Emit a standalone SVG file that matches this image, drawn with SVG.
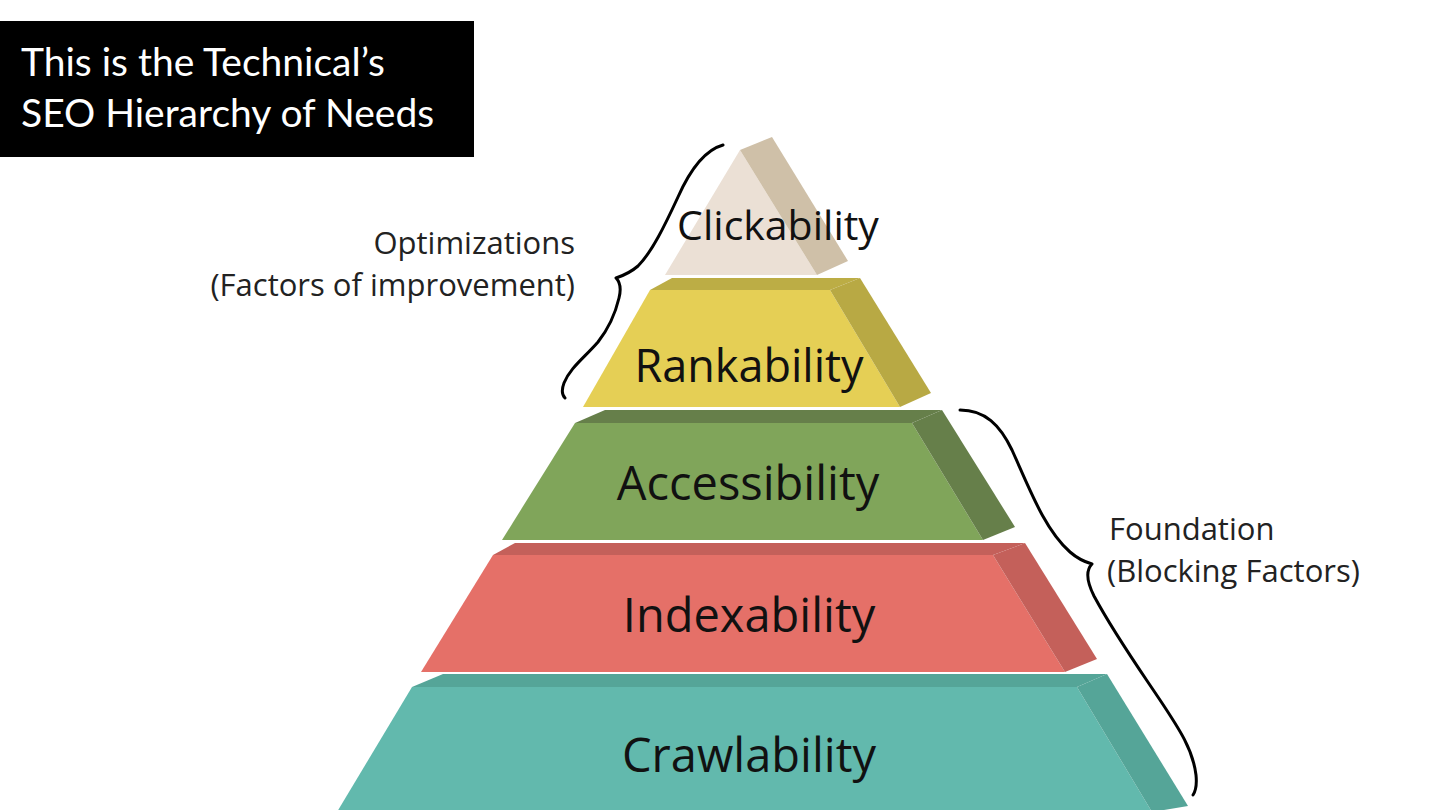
<svg xmlns="http://www.w3.org/2000/svg" width="1440" height="810" viewBox="0 0 1440 810">
<style>
.lbl{font-family:"Open Sans","Liberation Sans",sans-serif;fill:#111;text-anchor:middle}
.side{font-family:"Open Sans","Liberation Sans",sans-serif;fill:#222;font-size:31px}
.title{font-family:Lato,"Liberation Sans",sans-serif;fill:#fff;font-size:39px}
.brace{fill:none;stroke:#000;stroke-width:3;stroke-linecap:round;stroke-linejoin:round}
</style>
<rect width="1440" height="810" fill="#fff"/>
<g id="title">
<rect x="0" y="21" width="474" height="136" fill="#000"/>
<text class="title" x="21" y="76">This is the Technical’s</text>
<text class="title" x="21" y="127">SEO Hierarchy of Needs</text>
</g>
<g id="crawlability">
<polygon points="412,687 443,674 1107,674 1077,687" fill="#55a598"/>
<polygon points="412,687 1077,687 1152,812 337,812" fill="#62b9ad"/>
<polygon points="1077,687 1107,674 1188,806 1152,812" fill="#55a598"/>
<text class="lbl" x="749" y="772" font-size="47">Crawlability</text>
</g>
<g id="indexability">
<polygon points="493,555 515,543 1025,543 993,555" fill="#c4605a"/>
<polygon points="493,555 993,555 1065,672 421,672" fill="#e57068"/>
<polygon points="993,555 1025,543 1097,659 1065,672" fill="#c4605a"/>
<text class="lbl" x="749" y="632" font-size="47">Indexability</text>
</g>
<g id="accessibility">
<polygon points="575,423 605,410 942,410 912,423" fill="#667f4a"/>
<polygon points="575,423 912,423 983,540 502,540" fill="#80a55a"/>
<polygon points="912,423 942,410 1015,527 983,540" fill="#667f4a"/>
<text class="lbl" x="748" y="500" font-size="47">Accessibility</text>
</g>
<g id="rankability">
<polygon points="650,290 672,278 860,278 830,290" fill="#bcad45"/>
<polygon points="650,290 830,290 900,407 583,407" fill="#e5cf55"/>
<polygon points="830,290 860,278 931,393 900,407" fill="#b8a944"/>
<text class="lbl" x="749" y="382" font-size="45">Rankability</text>
</g>
<g id="clickability">
<polygon points="740,150 817,275 665,275" fill="#ebe0d5"/>
<polygon points="740,150 772,137 848,261 817,275" fill="#cfc0a8"/>
<text class="lbl" x="778" y="240" font-size="41">Clickability</text>
</g>
<g id="connectors">
<path class="brace" d="M723,145 C705,150 690,170 678,197 C665,225 652,252 638,266 C630,273 622,276 616,278 C621,283 621,290 619,298 C615,315 609,328 598,342 C584,358 570,368 564,383 C561,391 563,396 565,398"/>
<path class="brace" d="M960,410 C985,410 1000,425 1012,450 C1030,490 1045,530 1070,552 C1078,559 1085,562 1092,564 C1086,570 1086,580 1094,596 C1115,635 1140,670 1160,700 C1180,730 1193,750 1196,775 C1197,785 1195,792 1193,795"/>
</g>
<g id="labels">
<text class="side" x="575" y="254" text-anchor="end">Optimizations</text>
<text class="side" x="575" y="296" text-anchor="end">(Factors of improvement)</text>
<text class="side" x="1109" y="540">Foundation</text>
<text class="side" x="1107" y="582">(Blocking Factors)</text>
</g>
</svg>
